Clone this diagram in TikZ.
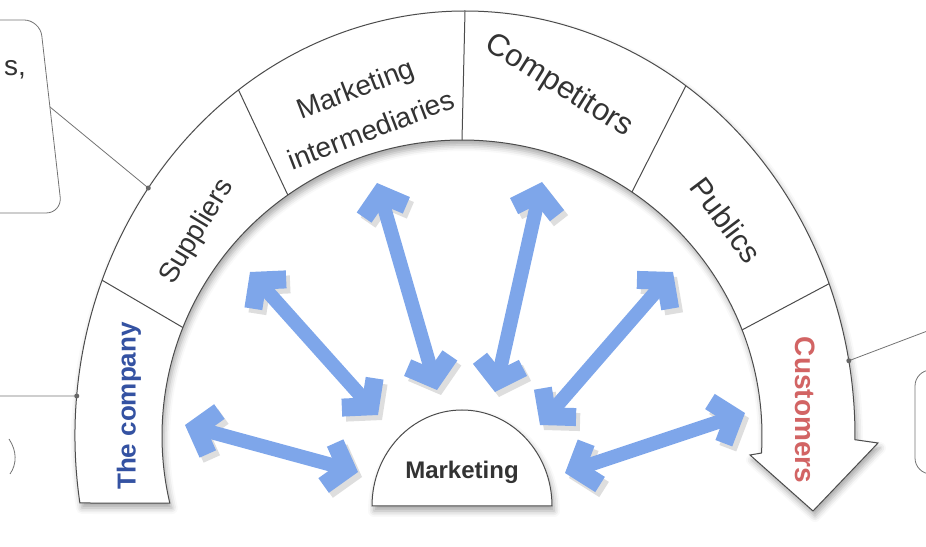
\documentclass[tikz,border=0pt]{standalone}
\usepackage{fontspec}
\setmainfont{Liberation Sans}
\usetikzlibrary{arrows.meta,shadows.blur}
\definecolor{arrowblue}{RGB}{126,166,234}
\definecolor{companyblue}{RGB}{52,82,162}
\definecolor{customerred}{RGB}{210,100,100}

\begin{document}
\begin{tikzpicture}
  [x=1pt, y=1pt,
  band/.style={draw=black!70, line width=1pt, fill=white},
  rimshadow/.style={blur shadow={shadow xshift=2pt, shadow yshift=-5pt,
      shadow blur radius=6pt, shadow opacity=35}},
  label/.style={font=\fontsize{28}{32}\selectfont, text=black!80, inner sep=0pt},
  relation/.style={line width=14pt, draw=arrowblue,
      {Straight Barb[length=18pt,width=44pt,line width=18pt]}-{Straight Barb[length=18pt,width=44pt,line width=18pt]},
      preaction={draw=black!13, transform canvas={xshift=4pt,yshift=-5pt}}},
  leader/.style={draw=black!55, line width=0.8pt},
  ]
  \useasboundingbox (0,0) rectangle (926,546);
  \coordinate (oc) at (465,110);
  \coordinate (ic) at (462,110);

  % boxes of the page round the figure
  \draw[leader, rounded corners=16pt] (-30,526) -- (40,526) -- (62,333) -- (-30,333);
  \node[label, anchor=east] (frag) at (26,476) {s,};
  \draw[leader] (9,107) .. controls (17,95) and (17,82) .. (10,72);
  \draw[leader, rounded corners=16pt] (945,176) -- (915,176) -- (915,72) -- (945,72);

  % the rim with its arrow head
  \draw[band, rimshadow] ([shift={(189.07:390 and 425)}]oc)
    arc[start angle=189.07, end angle=-0.5, x radius=390pt, y radius=425pt]
    -- (878,103) -- (813,35) -- (750,91) -- ([shift={(-3.3:300 and 296)}]ic)
    arc[start angle=-3.3, end angle=193.1, x radius=300pt, y radius=296pt]
    -- cycle;
  \foreach \a in {158.5,125.5,90,55.5,21}
    \draw[band] ([shift={(\a:300 and 296)}]ic) -- ([shift={(\a:390 and 425)}]oc);

  % leaders to the boxes
  \coordinate (boxL) at (50,439);
  \coordinate (dotS) at ([shift={(144.3:390 and 425)}]oc);
  \coordinate (edgeL) at (-5,150);
  \coordinate (dotL) at ([shift={(174.6:390 and 425)}]oc);
  \coordinate (edgeR) at (930,216);
  \coordinate (dotC) at ([shift={(10.2:390 and 425)}]oc);
  \draw[leader] (boxL) -- (dotS);
  \draw[leader] (edgeL) -- (dotL);
  \draw[leader] (dotC) -- (edgeR);
  \foreach \d in {dotS,dotL,dotC}
    \fill[black!60] (\d) circle (2.5pt);

  % marketing
  \draw[band, rimshadow] (372,40) arc[start angle=180, end angle=0, x radius=90pt, y radius=96pt] -- cycle;
  \node[label, font=\bfseries\fontsize{24}{28}\selectfont] (mkt) at (462,74) {Marketing};

  % the actors
  \node[label, rotate=90, text=companyblue, font=\bfseries\fontsize{26}{30}\selectfont] (company) at (129,140) {The company};
  \node[label, rotate=59] (suppliers) at (197,314) {Suppliers};
  \node[label, rotate=21, align=center, font=\fontsize{28}{44}\selectfont] (inter) at (363,437) {Marketing\\intermediaries};
  \node[label, rotate=-32, font=\fontsize{31}{34}\selectfont] (competitors) at (559,460) {Competitors};
  \node[label, rotate=-53, font=\fontsize{30}{34}\selectfont] (publics) at (726,326) {Publics};
  \node[label, rotate=-90, text=customerred, font=\bfseries\fontsize{28}{32}\selectfont] (customers) at (805,136) {Customers};

  % relations to marketing
  \coordinate (co-out) at (185,121); \coordinate (co-in) at (358,74);
  \coordinate (su-out) at (250,274); \coordinate (su-in) at (378,131);
  \coordinate (mi-out) at (377,363); \coordinate (mi-in) at (437,156);
  \coordinate (cp-out) at (542,364); \coordinate (cp-in) at (495,154);
  \coordinate (pu-out) at (673,274); \coordinate (pu-in) at (540,121);
  \coordinate (cu-out) at (745,133); \coordinate (cu-in) at (565,73);
  \foreach \n in {co,su,mi,cp,pu,cu}
    \draw[relation] (\n-out) -- (\n-in);
\end{tikzpicture}
\end{document}
